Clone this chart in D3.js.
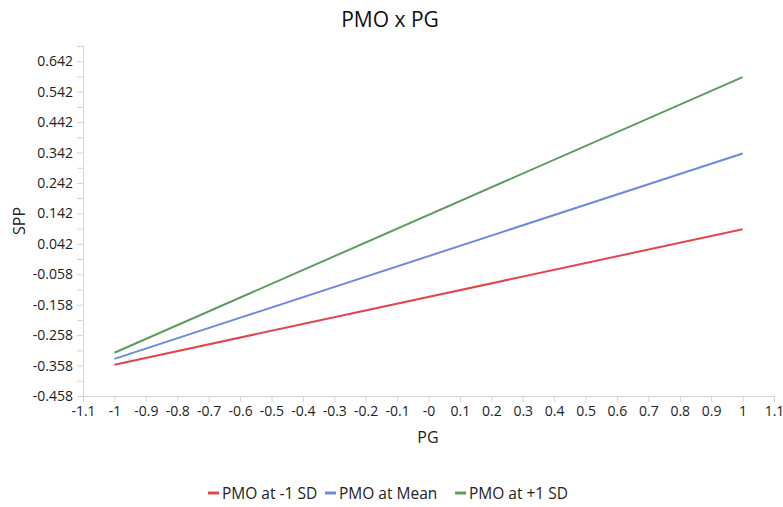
<!DOCTYPE html>
<html>
<head>
<meta charset="utf-8">
<script src="https://cdn.jsdelivr.net/npm/d3@7"></script>
<style>
  body { margin: 0; background: #fff; }
  text { font-family: "Open Sans", "Noto Sans", sans-serif; }
</style>
</head>
<body>
<div id="vis"></div>
<script>
// data
let pgValues = [-1, 1];
let seriesNames = ["PMO at -1 SD", "PMO at Mean", "PMO at +1 SD"];
let lowSD = [-0.355, 0.090];
let meanVals = [-0.336, 0.339];
let highSD = [-0.316, 0.590];
let colors = ["#e0474c", "#6b8be0", "#5f9a5f"];
let xTicks = d3.range(-11, 12).map(d => d / 10);
let yTicks = d3.range(0, 12).map(d => -0.458 + d * 0.1);

let W = 783, H = 507;
let margin = { top: 46, left: 83, right: 9, bottom: 111 };
let width = W - margin.left - margin.right,
  height = H - margin.top - margin.bottom;

let svg = d3.select('#vis')
  .append('svg')
  .attr('width', W)
  .attr('height', H)
  .style('background-color', '#fff');

let g = svg.append('g')
  .attr('transform', `translate(${margin.left},${margin.top})`);

let x = d3.scaleLinear().domain([-1.1, 1.1]).range([0, width]);
let y = d3.scaleLinear().domain([-0.458, 0.692]).range([height, 0]);

// x axis
g.append('g')
  .attr('transform', `translate(0,${height})`)
  .call(d3.axisBottom(x).tickValues(xTicks).tickSize(6).tickPadding(4)
    .tickFormat(d => {
      let r = Math.round(d * 10) / 10;
      if (Math.abs(r) < 1e-9) return '-0';
      return String(r);
    }));

// y axis with minor ticks at half-steps
let yMinor = yTicks.map(d => d + 0.05);
g.append('g')
  .call(d3.axisLeft(y).tickValues(yMinor).tickSize(6).tickFormat(''))
  .call(a => a.select('.domain').remove());
g.append('g')
  .call(d3.axisLeft(y).tickValues(yTicks).tickSize(6).tickPadding(4)
    .tickFormat(d => d3.format('.3f')(d).replace('−', '-')));

g.selectAll('.domain, .tick line').attr('stroke', '#d4d4d4');
g.selectAll('.tick text').attr('fill', '#222').style('font-size', '14px');

// lines
let series = [lowSD, meanVals, highSD];
let line = d3.line().x((d, i) => x(pgValues[i])).y(d => y(d));
g.selectAll('.series')
  .data(series)
  .enter()
  .append('path')
  .attr('class', 'series')
  .attr('d', d => line(d))
  .attr('fill', 'none')
  .attr('stroke', (d, i) => colors[i])
  .attr('stroke-width', 2);

// title and axis labels
svg.append('text')
  .attr('x', 390)
  .attr('y', 27)
  .attr('text-anchor', 'middle')
  .style('font-size', '21px')
  .attr('fill', '#111')
  .text('PMO x PG');

svg.append('text')
  .attr('x', 428)
  .attr('y', 443)
  .attr('text-anchor', 'middle')
  .style('font-size', '16px')
  .attr('fill', '#222')
  .text('PG');

svg.append('text')
  .attr('transform', 'translate(25,221) rotate(-90)')
  .attr('text-anchor', 'middle')
  .style('font-size', '16px')
  .attr('fill', '#222')
  .text('SPP');

// legend
let legendX = [208, 325, 455];
let legend = svg.append('g');
seriesNames.forEach((name, i) => {
  legend.append('line')
    .attr('x1', legendX[i]).attr('x2', legendX[i] + 11)
    .attr('y1', 493).attr('y2', 493)
    .attr('stroke', colors[i])
    .attr('stroke-width', 3);
  legend.append('text')
    .attr('x', legendX[i] + 14)
    .attr('y', 499)
    .style('font-size', '15.5px')
    .attr('fill', '#222')
    .text(name);
});
</script>
</body>
</html>
